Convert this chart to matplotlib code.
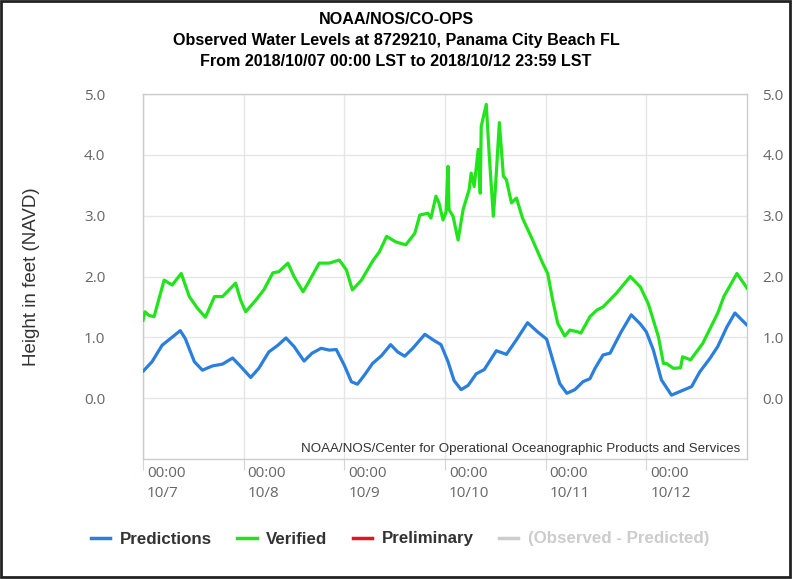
import matplotlib
matplotlib.use('Agg')
import matplotlib.pyplot as plt
from matplotlib.lines import Line2D
from matplotlib.patches import Rectangle
import matplotlib.transforms as mtransforms

# days since 2018/10/07 00:00 LST
pred_day = [0.00, 0.09, 0.19, 0.28, 0.37, 0.42, 0.51, 0.59, 0.69, 0.79, 0.89, 0.96, 1.07, 1.15,
            1.25, 1.34, 1.42, 1.50, 1.60, 1.68, 1.77, 1.85, 1.92, 2.00, 2.07, 2.13, 2.20, 2.28,
            2.37, 2.46, 2.53, 2.60, 2.68, 2.80, 2.88, 2.96, 3.03, 3.09, 3.16, 3.23, 3.31, 3.39,
            3.51, 3.61, 3.71, 3.82, 3.92, 4.01, 4.07, 4.14, 4.21, 4.29, 4.37, 4.44, 4.49, 4.57,
            4.64, 4.75, 4.85, 4.94, 5.00, 5.07, 5.15, 5.25, 5.35, 5.45, 5.53, 5.63, 5.71, 5.80,
            5.88, 6.00]
pred_ft = [0.44, 0.60, 0.87, 0.99, 1.11, 0.98, 0.60, 0.46, 0.53, 0.56, 0.66, 0.54, 0.34, 0.49,
           0.76, 0.87, 0.99, 0.85, 0.61, 0.74, 0.82, 0.79, 0.80, 0.54, 0.27, 0.23, 0.38, 0.57,
           0.70, 0.88, 0.76, 0.69, 0.82, 1.05, 0.96, 0.88, 0.60, 0.29, 0.14, 0.21, 0.40, 0.47,
           0.78, 0.72, 0.96, 1.24, 1.09, 0.97, 0.63, 0.24, 0.08, 0.14, 0.27, 0.32, 0.49, 0.71,
           0.74, 1.09, 1.37, 1.22, 1.09, 0.79, 0.30, 0.05, 0.12, 0.19, 0.43, 0.65, 0.85, 1.17,
           1.40, 1.20]

ver_day = [0.00, 0.02, 0.06, 0.11, 0.21, 0.29, 0.38, 0.46, 0.54, 0.62, 0.71, 0.79, 0.92, 0.97,
           1.02, 1.12, 1.20, 1.29, 1.35, 1.44, 1.50, 1.59, 1.65, 1.75, 1.85, 1.95, 2.02, 2.08,
           2.17, 2.28, 2.35, 2.42, 2.51, 2.61, 2.70, 2.75, 2.83, 2.86, 2.91, 2.94, 2.98, 3.01,
           3.03, 3.04, 3.08, 3.13, 3.18, 3.24, 3.26, 3.29, 3.33, 3.35, 3.36, 3.41, 3.44, 3.48,
           3.50, 3.54, 3.58, 3.61, 3.66, 3.71, 3.77, 3.87, 3.97, 4.02, 4.07, 4.12, 4.19, 4.24,
           4.32, 4.35, 4.44, 4.51, 4.57, 4.70, 4.84, 4.94, 5.02, 5.12, 5.17, 5.20, 5.27, 5.34,
           5.36, 5.44, 5.56, 5.71, 5.77, 5.90, 6.00]
ver_ft = [1.28, 1.42, 1.36, 1.34, 1.94, 1.86, 2.05, 1.67, 1.48, 1.33, 1.67, 1.67, 1.89, 1.61,
          1.42, 1.61, 1.78, 2.06, 2.08, 2.22, 2.00, 1.75, 1.92, 2.22, 2.22, 2.27, 2.11, 1.78,
          1.94, 2.25, 2.41, 2.66, 2.57, 2.52, 2.71, 3.01, 3.04, 2.96, 3.32, 3.21, 2.93, 3.05,
          3.81, 3.10, 2.99, 2.60, 3.10, 3.43, 3.70, 3.48, 4.09, 3.37, 4.47, 4.83, 3.98, 2.99,
          3.43, 4.53, 3.65, 3.59, 3.21, 3.29, 2.96, 2.60, 2.22, 2.05, 1.61, 1.23, 1.02, 1.12,
          1.09, 1.07, 1.34, 1.45, 1.50, 1.72, 2.00, 1.83, 1.55, 1.01, 0.57, 0.57, 0.49, 0.50,
          0.68, 0.63, 0.90, 1.40, 1.67, 2.05, 1.81]

tick_days = [0, 1, 2, 3, 4, 5]
tick_labels = ['00:00\n10/7', '00:00\n10/8', '00:00\n10/9', '00:00\n10/10', '00:00\n10/11', '00:00\n10/12']
y_ticks = [0, 1, 2, 3, 4, 5]

blue = '#2a7fdc'
green = '#22e41c'
red = '#e0161b'
grey = '#cccccc'
arial = ['Liberation Sans', 'DejaVu Sans']

fig = plt.figure(figsize=(7.92, 5.79), dpi=100)
ax = fig.add_axes([143/792, 1-459/579, (747-143)/792, (459-94)/579])

ax.plot(pred_day, pred_ft, color=blue, lw=2.3, solid_joinstyle='round', solid_capstyle='round', zorder=3)
ax.plot(ver_day, ver_ft, color=green, lw=2.3, solid_joinstyle='round', zorder=4)

ax.set_xlim(0, 6)
ax.set_ylim(-1, 5)
ax.set_yticks(y_ticks)
ax.set_yticklabels(['%.1f' % v for v in y_ticks])
ax.set_xticks(tick_days)
ax.set_xticklabels([])
ax.grid(True, color='#e6e6e6', lw=1)
ax.set_axisbelow(True)
for s in ax.spines.values():
    s.set_color('#cccccc')
    s.set_linewidth(1)
ax.tick_params(axis='y', length=0, pad=27, labelcolor='#666666', labelsize=11)
ax.tick_params(axis='x', length=8, color='#ccd6eb', direction='out')
for lab in ax.get_yticklabels():
    lab.set_family('Open Sans')

ax2 = ax.twinx()
ax2.set_ylim(-1, 5)
ax2.set_yticks(y_ticks)
ax2.set_yticklabels(['%.1f' % v for v in y_ticks])
ax2.tick_params(axis='y', length=0, pad=11, labelcolor='#666666', labelsize=11)
for lab in ax2.get_yticklabels():
    lab.set_family('Open Sans')
for s in ax2.spines.values():
    s.set_visible(False)

off = mtransforms.ScaledTranslation(4/100, -7/100, fig.dpi_scale_trans)
for d, t in zip(tick_days, tick_labels):
    ax.text(d, 0, t, transform=ax.get_xaxis_transform() + off, ha='left', va='top',
            color='#666666', fontsize=11, family='Open Sans', linespacing=1.45)

ax.text(0.988, 0.012, 'NOAA/NOS/Center for Operational Oceanographic Products and Services',
        transform=ax.transAxes, ha='right', va='bottom', fontsize=9.6, color='#333333',
        family=arial)

title_lines = ['NOAA/NOS/CO-OPS',
               'Observed Water Levels at 8729210, Panama City Beach FL',
               'From 2018/10/07 00:00 LST to 2018/10/12 23:59 LST']
for ypix, line in zip([20, 41, 61], title_lines):
    fig.text(0.5, 1-ypix/579, line, ha='center', va='center', fontsize=11.6,
             fontweight='bold', family=arial)

fig.text(32/792, 1-277/579, 'Height in feet (NAVD)', rotation=90, ha='center', va='center',
         fontsize=13.5, color='#333333', family=arial)

handles = [Line2D([], [], color=c, lw=2.5) for c in [blue, green, red, grey]]
leg = fig.legend(handles, ['Predictions', 'Verified', 'Preliminary', '(Observed - Predicted)'],
                 loc='center', bbox_to_anchor=(400/792, 1-539/579), ncol=4, frameon=False,
                 handlelength=1.15, handletextpad=0.55, columnspacing=1.5,
                 prop={'family': arial, 'weight': 'bold', 'size': 12.2})
for txt, c in zip(leg.get_texts(), ['#333333', '#333333', '#333333', '#cccccc']):
    txt.set_color(c)

# outer frame of the screenshot
fig.add_artist(Rectangle((0.001, 0.004), 0.997, 0.994, transform=fig.transFigure,
                         fill=False, edgecolor='#222222', lw=2))

fig.savefig('out.png', dpi=100)
